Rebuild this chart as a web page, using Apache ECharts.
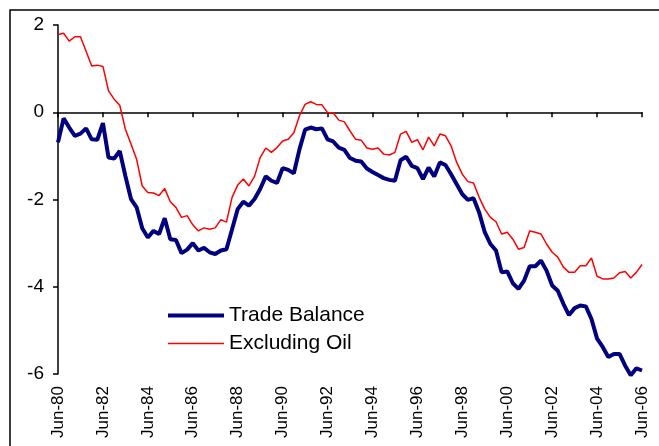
<!DOCTYPE html>
<html>
<head>
<meta charset="utf-8">
<script src="https://cdn.jsdelivr.net/npm/echarts@6/dist/echarts.min.js"></script>
<style>
  html, body { margin: 0; padding: 0; background: #fff; }
  #main { width: 659px; height: 446px; }
</style>
</head>
<body>
<div id="main"></div>
<script>
// quarterly, Jun-80 .. Jun-06
const months = ['Jun', 'Sep', 'Dec', 'Mar'];
const quarters = [];
for (let i = 0; i < 105; i++) {
  const yr = 80 + Math.floor((i + 1) / 4);
  quarters.push(months[i % 4] + '-' + String(yr % 100).padStart(2, '0'));
}

const tradeBalance = [
  -0.69, -0.14, -0.35, -0.54, -0.49, -0.37, -0.62, -0.63, -0.25, -1.04,
  -1.06, -0.89, -1.46, -1.99, -2.18, -2.66, -2.87, -2.72, -2.79, -2.43,
  -2.91, -2.93, -3.23, -3.15, -3.00, -3.17, -3.11, -3.21, -3.25, -3.17,
  -3.14, -2.68, -2.22, -2.05, -2.14, -1.99, -1.76, -1.47, -1.57, -1.62,
  -1.28, -1.32, -1.40, -0.85, -0.40, -0.35, -0.39, -0.37, -0.62, -0.67,
  -0.81, -0.86, -1.05, -1.11, -1.13, -1.29, -1.37, -1.44, -1.51, -1.55,
  -1.57, -1.10, -1.02, -1.23, -1.28, -1.53, -1.27, -1.47, -1.15, -1.21,
  -1.42, -1.65, -1.88, -2.01, -1.97, -2.30, -2.75, -3.02, -3.17, -3.67,
  -3.65, -3.92, -4.05, -3.86, -3.53, -3.53, -3.40, -3.63, -3.97, -4.09,
  -4.39, -4.65, -4.49, -4.43, -4.45, -4.74, -5.19, -5.38, -5.61, -5.54,
  -5.54, -5.81, -6.03, -5.87, -5.92
];

const excludingOil = [
  1.78, 1.81, 1.63, 1.73, 1.73, 1.40, 1.06, 1.08, 1.05, 0.49,
  0.30, 0.16, -0.39, -0.73, -1.08, -1.69, -1.84, -1.85, -1.91, -1.75,
  -2.05, -2.18, -2.41, -2.37, -2.58, -2.72, -2.65, -2.68, -2.65, -2.46,
  -2.52, -1.95, -1.67, -1.53, -1.69, -1.47, -1.04, -0.82, -0.92, -0.81,
  -0.66, -0.62, -0.47, -0.08, 0.18, 0.24, 0.18, 0.17, -0.01, -0.01,
  -0.18, -0.22, -0.43, -0.62, -0.64, -0.82, -0.85, -0.82, -0.96, -0.98,
  -0.92, -0.50, -0.44, -0.69, -0.63, -0.86, -0.57, -0.77, -0.50, -0.54,
  -0.77, -1.15, -1.42, -1.59, -1.62, -1.95, -2.22, -2.41, -2.51, -2.79,
  -2.75, -2.91, -3.14, -3.10, -2.72, -2.75, -2.79, -3.02, -3.21, -3.32,
  -3.55, -3.67, -3.67, -3.52, -3.52, -3.34, -3.76, -3.82, -3.82, -3.80,
  -3.68, -3.65, -3.80, -3.67, -3.49
];

const font = 'Liberation Sans, Arial, sans-serif';

echarts.init(document.getElementById('main')).setOption({
  animation: false,
  graphic: [
    {
      type: 'rect',
      shape: { x: 10, y: 10, width: 700, height: 500 },
      style: { fill: 'none', stroke: '#000', lineWidth: 1.5 },
      silent: true
    }
  ],
  grid: { left: 58, top: 25, width: 584, height: 349 },
  legend: {
    orient: 'vertical',
    left: 163,
    top: 300,
    itemWidth: 56,
    itemHeight: 14,
    itemGap: 7,
    textStyle: { fontFamily: font, fontSize: 21, color: '#000' },
    data: [
      { name: 'Trade Balance', icon: 'path://M0 0H56V4H0Z' },
      { name: 'Excluding Oil', icon: 'path://M0 0H56V1.5H0Z' }
    ]
  },
  xAxis: [
    {
      type: 'category',
      data: quarters,
      boundaryGap: false,
      axisLine: { onZero: true, lineStyle: { color: '#000', width: 1.5 } },
      axisTick: { interval: 7, length: 5, lineStyle: { color: '#000', width: 1.5 } },
      axisLabel: { show: false },
      splitLine: { show: false }
    },
    {
      type: 'category',
      data: quarters,
      boundaryGap: false,
      position: 'bottom',
      axisLine: { show: false, onZero: false },
      axisTick: { show: false },
      axisLabel: {
        interval: 7,
        rotate: 90,
        margin: 12,
        fontFamily: font,
        fontSize: 17,
        color: '#000'
      },
      splitLine: { show: false }
    }
  ],
  yAxis: {
    type: 'value',
    min: -6,
    max: 2,
    interval: 2,
    axisLine: { show: true, lineStyle: { color: '#000', width: 1.5 } },
    axisTick: { show: true, length: 5, lineStyle: { color: '#000', width: 1.5 } },
    axisLabel: { fontFamily: font, fontSize: 19, color: '#000', margin: 14 },
    splitLine: { show: false }
  },
  series: [
    {
      name: 'Trade Balance',
      type: 'line',
      data: tradeBalance,
      symbol: 'none',
      clip: false,
      color: '#000080',
      lineStyle: { color: '#000080', width: 4 }
    },
    {
      name: 'Excluding Oil',
      type: 'line',
      data: excludingOil,
      symbol: 'none',
      clip: false,
      color: '#ff0000',
      lineStyle: { color: '#ff0000', width: 1.5 }
    }
  ]
});
</script>
</body>
</html>
